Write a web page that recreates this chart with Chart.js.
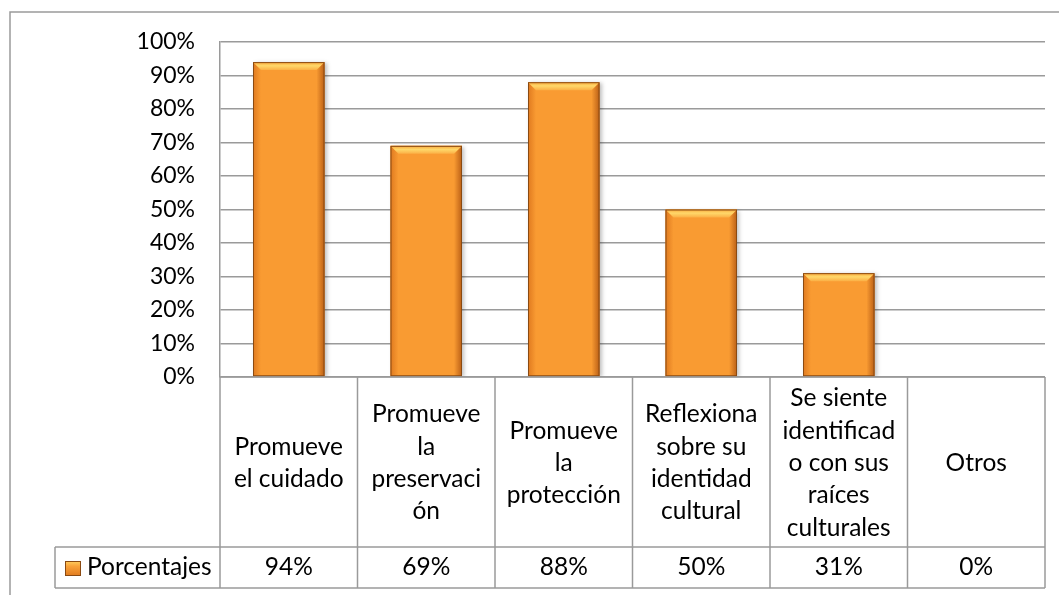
<!DOCTYPE html>
<html>
<head>
<meta charset="utf-8">
<script src="https://cdn.jsdelivr.net/npm/chart.js@4"></script>
<style>
html,body{margin:0;padding:0;background:#fff;}
#wrap{position:relative;width:1059px;height:595px;}
</style>
</head>
<body>
<div id="wrap"><canvas id="c"></canvas></div>
<script>
// ---- data ----
const categories = [
  ["Promueve", "el cuidado"],
  ["Promueve", "la", "preservaci", "ón"],
  ["Promueve", "la", "protección"],
  ["Reflexiona", "sobre su", "identidad", "cultural"],
  ["Se siente", "identificad", "o con sus", "raíces", "culturales"],
  ["Otros"]
];
const seriesName = "Porcentajes";
const values = [94, 69, 88, 50, 31, 0];
const yTickMax = 100;
const yTickStep = 10;

const FONT = "Lato, 'Liberation Sans', sans-serif";
const FS = 23;
const TFS = 24.5;
const LINE = "#9a9a9a";

const tablePlugin = {
  id: 'tablePlugin',
  beforeDatasetsDraw(chart) {
    const ctx = chart.ctx;
    ctx.save();
    ctx.shadowColor = 'rgba(0,0,0,0.25)';
    ctx.shadowBlur = 4;
    ctx.shadowOffsetX = 2;
    ctx.shadowOffsetY = 1;
  },
  afterDatasetsDraw(chart) {
    const ctx = chart.ctx;
    ctx.restore();
    const meta = chart.getDatasetMeta(0);
    meta.data.forEach(bar => {
      const {x, y, base, width} = bar.getProps(['x', 'y', 'base', 'width'], true);
      const l = x - width / 2, r = x + width / 2, h = base - y;
      if (h <= 1) return;
      const b = Math.min(8, h / 2);
      ctx.save();
      // left bevel
      let g = ctx.createLinearGradient(l, 0, l + b, 0);
      g.addColorStop(0, 'rgba(214,110,25,0.75)');
      g.addColorStop(1, 'rgba(214,110,25,0)');
      ctx.fillStyle = g;
      ctx.beginPath();
      ctx.moveTo(l, y); ctx.lineTo(l + b, y + b); ctx.lineTo(l + b, base); ctx.lineTo(l, base); ctx.closePath();
      ctx.fill();
      // right bevel
      g = ctx.createLinearGradient(r - b, 0, r, 0);
      g.addColorStop(0, 'rgba(170,80,15,0)');
      g.addColorStop(1, 'rgba(170,80,15,0.8)');
      ctx.fillStyle = g;
      ctx.beginPath();
      ctx.moveTo(r, y); ctx.lineTo(r - b, y + b); ctx.lineTo(r - b, base); ctx.lineTo(r, base); ctx.closePath();
      ctx.fill();
      // top bevel
      g = ctx.createLinearGradient(0, y, 0, y + b);
      g.addColorStop(0, '#F9A63A');
      g.addColorStop(0.45, '#FFD86A');
      g.addColorStop(1, '#FBAF45');
      ctx.fillStyle = g;
      ctx.beginPath();
      ctx.moveTo(l, y); ctx.lineTo(r, y); ctx.lineTo(r - b, y + b); ctx.lineTo(l + b, y + b); ctx.closePath();
      ctx.fill();
      // outline
      ctx.strokeStyle = '#8a4a12';
      ctx.lineWidth = 1;
      ctx.strokeRect(l + 0.5, y + 0.5, width - 1, h - 1);
      ctx.restore();
    });
  },
  afterDraw(chart) {
    const ctx = chart.ctx;
    const xs = chart.scales.x;
    const area = chart.chartArea;
    const n = categories.length;
    const half = (xs.getPixelForValue(1) - xs.getPixelForValue(0)) / 2;
    const top = area.bottom;
    const rowSplit = 547;
    const bottom = 588;
    const legendLeft = 55;
    ctx.save();
    ctx.strokeStyle = LINE;
    ctx.lineWidth = 1.5;
    // outer chart border (top + left)
    ctx.beginPath();
    ctx.moveTo(10, 595); ctx.lineTo(10, 12); ctx.lineTo(1059, 12);
    ctx.stroke();
    // vertical table lines
    ctx.beginPath();
    for (let i = 0; i <= n; i++) {
      const px = i < n ? xs.getPixelForValue(i) - half : xs.getPixelForValue(n - 1) + half;
      ctx.moveTo(px, top); ctx.lineTo(px, bottom);
    }
    ctx.moveTo(legendLeft, rowSplit); ctx.lineTo(legendLeft, bottom);
    ctx.moveTo(legendLeft, rowSplit); ctx.lineTo(area.right, rowSplit);
    ctx.moveTo(legendLeft, bottom); ctx.lineTo(area.right, bottom);
    ctx.moveTo(area.left, top); ctx.lineTo(area.right, top);
    ctx.stroke();

    // category text
    ctx.fillStyle = '#000';
    ctx.font = TFS + 'px ' + FONT;
    ctx.textAlign = 'center';
    ctx.textBaseline = 'middle';
    const pitch = 32.3;
    const midY = (top + rowSplit) / 2 + 1;
    categories.forEach((lines, i) => {
      const cx = xs.getPixelForValue(i);
      const y0 = midY - (lines.length - 1) * pitch / 2;
      lines.forEach((t, k) => ctx.fillText(t, cx, y0 + k * pitch));
      ctx.fillText(values[i] + '%', cx, (rowSplit + bottom) / 2);
    });

    // legend key
    const kx = 65, ky = 561, kw = 16, kh = 15;
    let g = ctx.createLinearGradient(0, ky, 0, ky + kh);
    g.addColorStop(0, '#FFD060');
    g.addColorStop(0.35, '#F9A23A');
    g.addColorStop(1, '#E07A1E');
    ctx.fillStyle = g;
    ctx.fillRect(kx, ky, kw, kh);
    ctx.strokeStyle = '#8a4a12';
    ctx.lineWidth = 1;
    ctx.strokeRect(kx + 0.5, ky + 0.5, kw - 1, kh - 1);
    ctx.fillStyle = '#000';
    ctx.textAlign = 'left';
    ctx.fillText(seriesName, 87, (rowSplit + bottom) / 2);
    ctx.restore();
  }
};

new Chart(document.getElementById('c'), {
  type: 'bar',
  data: {
    labels: categories,
    datasets: [{
      label: seriesName,
      data: values,
      backgroundColor: '#F99B32',
      borderWidth: 0,
      categoryPercentage: 1.0,
      barPercentage: 0.52
    }]
  },
  options: {
    responsive: true,
    maintainAspectRatio: false,
    animation: false,
    events: [],
    layout: { padding: { left: 0, top: 42, right: 14, bottom: 218 } },
    plugins: { legend: { display: false }, tooltip: { enabled: false } },
    scales: {
      x: { display: false, offset: true },
      y: {
        min: 0, max: yTickMax,
        border: { display: true, color: LINE, width: 1.5 },
        grid: { color: LINE, lineWidth: 1.5, drawTicks: false },
        ticks: {
          stepSize: yTickStep,
          padding: 25,
          color: '#000',
          font: { family: FONT, size: FS },
          callback: v => v + '%'
        },
        afterFit(s) { s.width = 220; }
      }
    }
  },
  plugins: [tablePlugin]
});
</script>
</body>
</html>
